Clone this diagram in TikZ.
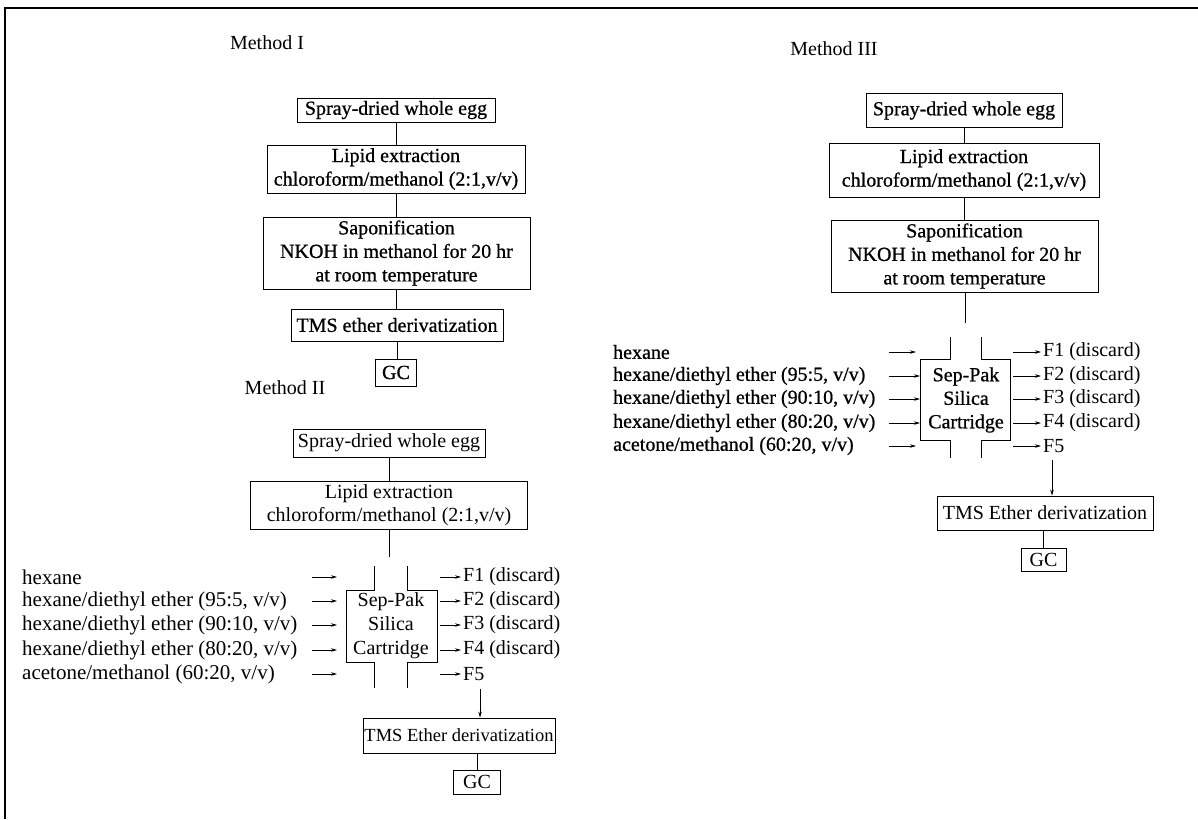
\documentclass[tikz,border=0pt]{standalone}
\usepackage{fontspec}
\setmainfont{Liberation Serif}
\newfontfamily\darkserif[FakeBold=0.8]{Liberation Serif}
\usetikzlibrary{arrows.meta}
\begin{document}
\begin{tikzpicture}[x=1pt,y=-1pt,
  font=\fontsize{20}{23.5}\selectfont,
  box/.style={draw, line width=0.8pt, align=center, inner sep=0pt},
  lbl/.style={inner sep=0pt, anchor=west},
  con/.style={line width=0.8pt},
  arr/.style={line width=0.7pt, -{Stealth[length=6pt,width=3.5pt]}}]
\useasboundingbox (0,0) rectangle (1198,819);
\draw[line width=1.2pt] (1198,8) -- (5,8) -- (5,819);

% ---------------- Method I ----------------
\node[inner sep=0pt] (m1) at (267,43) {Method I};
\begin{scope}[font={\darkserif\fontsize{20}{23.5}\selectfont}]
\node[box, minimum width=198pt, minimum height=24pt] (s1) at (396,110) {Spray-dried whole egg};
\node[box, minimum width=258pt, minimum height=48pt] (l1) at (396,169) {Lipid extraction\\chloroform/methanol (2:1,v/v)};
\node[box, minimum width=267pt, minimum height=72pt] (p1) at (396.5,253) {Saponification\\NKOH in methanol for 20 hr\\at room temperature};
\node[box, minimum width=212pt, minimum height=32pt] (t1) at (397,325) {TMS ether derivatization};
\node[box, minimum width=41pt, minimum height=27pt] (g1) at (396,372.5) {GC};
\end{scope}
\draw[con] (s1) -- (l1);
\draw[con] (l1) -- (l1 |- p1.north);
\draw[con] (p1) -- (p1 |- t1.north);
\draw[con] (t1) -- (t1 |- g1.north);

% ---------------- Method II ----------------
\node[inner sep=0pt] (m2) at (285,388) {Method II};
\node[box, minimum width=192pt, minimum height=28pt] (s2) at (389,443) {Spray-dried whole egg};
\node[box, minimum width=277pt, minimum height=48pt] (l2) at (389,505) {Lipid extraction\\chloroform/methanol (2:1,v/v)};
\coordinate (in2) at (389,557);
\draw[con] (s2) -- (l2);
\draw[con] (l2) -- (in2);
% cartridge
\node[inner sep=0pt, align=center, font=\fontsize{20}{24}\selectfont] (c2) at (391,626) {Sep-Pak\\Silica\\Cartridge};
\draw[con] (374,566) -- (374,590) -- (346,590) -- (346,662) -- (374,662) -- (374,688);
\draw[con] (407,566) -- (407,590) -- (437,590) -- (437,662) -- (407,662) -- (407,688);
% inputs
\begin{scope}[font=\fontsize{21}{24}\selectfont]
\node[lbl] (h2a) at (22,577) {hexane};
\node[lbl] (h2b) at (22,601) {hexane/diethyl ether (95:5, v/v)};
\node[lbl] (h2c) at (22,625) {hexane/diethyl ether (90:10, v/v)};
\node[lbl] (h2d) at (22,650) {hexane/diethyl ether (80:20, v/v)};
\node[lbl] (h2e) at (22,674) {acetone/methanol (60:20, v/v)};
\end{scope}
\foreach \n/\y in {a/577,b/601,c/625,d/650,e/674}{
  \coordinate (p2\n) at (312,\y); \coordinate (q2\n) at (337,\y);
  \draw[arr] (p2\n) -- (q2\n);
  \coordinate (r2\n) at (440,\y); \coordinate (u2\n) at (461,\y);
  \draw[arr] (r2\n) -- (u2\n);
}
\node[lbl] (f2a) at (463,577) {F1 (discard)};
\node[lbl] (f2b) at (463,601) {F2 (discard)};
\node[lbl] (f2c) at (463,625) {F3 (discard)};
\node[lbl] (f2d) at (463,650) {F4 (discard)};
\node[lbl] (f2e) at (463,674) {F5};
\node[box, minimum width=192pt, minimum height=35pt, font=\fontsize{18.5}{22}\selectfont] (t2) at (459,735.5) {TMS Ether derivatization};
\node[box, minimum width=47pt, minimum height=24pt] (g2) at (477,782) {GC};
\coordinate (d2) at (480,689);
\draw[arr] (d2) -- (d2 |- t2.north);
\draw[con] (g2.north) -- (g2.north |- t2.south);

% ---------------- Method III ----------------
\node[inner sep=0pt] (m3) at (834,49) {Method III};
\begin{scope}[font={\darkserif\fontsize{20}{23.5}\selectfont}]
\node[box, minimum width=196pt, minimum height=34pt] (s3) at (964,110.5) {Spray-dried whole egg};
\node[box, minimum width=270pt, minimum height=54pt] (l3) at (964,170) {Lipid extraction\\chloroform/methanol (2:1,v/v)};
\node[box, minimum width=267pt, minimum height=72pt] (p3) at (964.5,256) {Saponification\\NKOH in methanol for 20 hr\\at room temperature};
% cartridge text and inputs
\node[inner sep=0pt, align=center] (c3) at (966,400) {Sep-Pak\\Silica\\Cartridge};
\node[lbl] (h3a) at (613,352) {hexane};
\node[lbl] (h3b) at (613,376) {hexane/diethyl ether (95:5, v/v)};
\node[lbl] (h3c) at (613,399) {hexane/diethyl ether (90:10, v/v)};
\node[lbl] (h3d) at (613,423) {hexane/diethyl ether (80:20, v/v)};
\node[lbl] (h3e) at (613,446) {acetone/methanol (60:20, v/v)};
\end{scope}
\coordinate (in3) at (965,323);
\draw[con] (s3) -- (l3);
\draw[con] (l3) -- (l3 |- p3.north);
\draw[con] (p3.south -| in3) -- (in3);
\draw[con] (950,337) -- (950,359) -- (920,359) -- (920,440) -- (950,440) -- (950,458);
\draw[con] (981,337) -- (981,359) -- (1010,359) -- (1010,440) -- (981,440) -- (981,458);
\foreach \n/\y/\e in {a/352/916,b/376/920,c/399/920,d/423/920,e/446/916}{
  \coordinate (p3\n) at (889,\y); \coordinate (q3\n) at (\e,\y);
  \draw[arr] (p3\n) -- (q3\n);
  \coordinate (r3\n) at (1013,\y); \coordinate (u3\n) at (1041,\y);
  \draw[arr] (r3\n) -- (u3\n);
}
\node[lbl] (f3a) at (1043,352) {F1 (discard)};
\node[lbl] (f3b) at (1043,376) {F2 (discard)};
\node[lbl] (f3c) at (1043,399) {F3 (discard)};
\node[lbl] (f3d) at (1043,423) {F4 (discard)};
\node[lbl] (f3e) at (1043,446) {F5};
\node[box, minimum width=216pt, minimum height=34pt] (t3) at (1045,513) {TMS Ether derivatization};
\node[box, minimum width=45pt, minimum height=23pt] (g3) at (1043.5,559.5) {GC};
\coordinate (d3) at (1052,460);
\draw[arr] (d3) -- (d3 |- t3.north);
\draw[con] (g3.north) -- (g3.north |- t3.south);
\end{tikzpicture}
\end{document}
